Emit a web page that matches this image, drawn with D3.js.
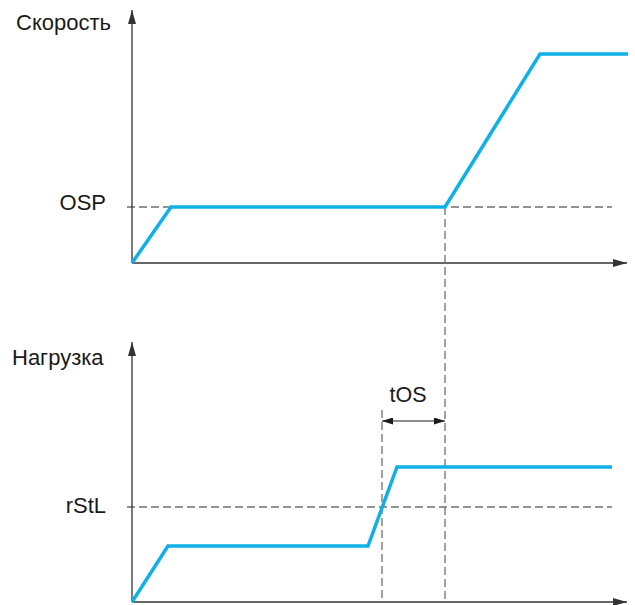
<!DOCTYPE html>
<html>
<head>
<meta charset="utf-8">
<script src="https://cdn.jsdelivr.net/npm/d3@7"></script>
<style>
  html, body { margin: 0; padding: 0; background: #fff; }
  text { font-family: "Liberation Sans", Arial, sans-serif; fill: #1a1a1a; }
</style>
</head>
<body>
<svg id="chart" width="635" height="605"></svg>
<script>
// Time axis (shared by both panels), arbitrary units
const timeEnd = 495;          // x-axis arrow tip
const dashEnd = 480;          // reference lines end

// Speed panel
const speedLevels = { OSP: 56 };
const speedT = [0, 39, 313, 408, 496];
const speedV = [0, 56, 56, 209, 209];

// Load panel
const loadLevels = { rStL: 95 };
const loadT = [0, 36, 236, 265, 480];
const loadV = [0, 56, 56, 135, 135];

// Time markers
const markerT = [250, 313];   // start / end of tOS
const markerLabel = "tOS";

const axisTitles = ["Скорость", "Нагрузка"];

const svg = d3.select("#chart");
const blue = "#0fb0e6";
const axisColor = "#333";
const dashColor = "#707070";
const fontSize = 22;

const x = d3.scaleLinear().domain([0, 500]).range([132, 632]);
const yTop = d3.scaleLinear().domain([0, 250]).range([263, 13]);
const yBot = d3.scaleLinear().domain([0, 250]).range([602, 352]);

const defs = svg.append("defs");
defs.append("marker").attr("id", "axArrow")
  .attr("viewBox", "0 0 14 8").attr("refX", 14).attr("refY", 4)
  .attr("markerWidth", 14).attr("markerHeight", 8)
  .attr("markerUnits", "userSpaceOnUse").attr("orient", "auto")
  .append("path").attr("d", "M0,0 L14,4 L0,8 Z").attr("fill", axisColor);
defs.append("marker").attr("id", "dimArrow")
  .attr("viewBox", "0 0 11 7").attr("refX", 11).attr("refY", 3.5)
  .attr("markerWidth", 11).attr("markerHeight", 7)
  .attr("markerUnits", "userSpaceOnUse").attr("orient", "auto-start-reverse")
  .append("path").attr("d", "M0,0 L11,3.5 L0,7 Z").attr("fill", "#1a1a1a");

const line = (ys) => d3.line().x(d => x(d[0])).y(d => ys(d[1]));

function panel(ys, title, titleX, titleY, levelName, levelVal, levelDy, yTip) {
  const g = svg.append("g");
  // reference level
  g.append("line")
    .attr("x1", x(-5)).attr("x2", x(dashEnd))
    .attr("y1", ys(levelVal)).attr("y2", ys(levelVal))
    .attr("stroke", dashColor).attr("stroke-width", 1.3)
    .attr("stroke-dasharray", "8,4");
  // axes
  g.append("line")
    .attr("x1", x(0)).attr("x2", x(0))
    .attr("y1", ys(0)).attr("y2", yTip)
    .attr("stroke", axisColor).attr("stroke-width", 1.3)
    .attr("marker-end", "url(#axArrow)");
  g.append("line")
    .attr("x1", x(0)).attr("x2", x(timeEnd))
    .attr("y1", ys(0)).attr("y2", ys(0))
    .attr("stroke", axisColor).attr("stroke-width", 1.3)
    .attr("marker-end", "url(#axArrow)");
  // labels
  g.append("text").attr("x", 106).attr("y", ys(levelVal) + levelDy)
    .attr("text-anchor", "end")
    .attr("font-size", fontSize).text(levelName);
  g.append("text").attr("x", titleX).attr("y", titleY)
    .attr("font-size", fontSize).text(title);
  return g;
}

panel(yTop, axisTitles[0], 16, 30, "OSP", speedLevels.OSP, 3, 10);
panel(yBot, axisTitles[1], 12, 365, "rStL", loadLevels.rStL, 6, 342);

// time markers
svg.append("line")
  .attr("x1", x(markerT[1])).attr("x2", x(markerT[1]))
  .attr("y1", yTop(speedLevels.OSP)).attr("y2", yBot(0))
  .attr("stroke", dashColor).attr("stroke-width", 1.3)
  .attr("stroke-dasharray", "8,4");
svg.append("line")
  .attr("x1", x(markerT[0])).attr("x2", x(markerT[0]))
  .attr("y1", 410).attr("y2", yBot(0))
  .attr("stroke", dashColor).attr("stroke-width", 1.3)
  .attr("stroke-dasharray", "8,4");
svg.append("line")
  .attr("x1", x(markerT[0])).attr("x2", x(markerT[1]))
  .attr("y1", 421).attr("y2", 421)
  .attr("stroke", "#1a1a1a").attr("stroke-width", 1.2)
  .attr("marker-start", "url(#dimArrow)").attr("marker-end", "url(#dimArrow)");
svg.append("text")
  .attr("x", 408).attr("y", 402)
  .attr("text-anchor", "middle").attr("font-size", 21.5).text(markerLabel);

// curves
svg.append("path").datum(d3.zip(speedT, speedV))
  .attr("d", line(yTop)).attr("fill", "none")
  .attr("stroke", blue).attr("stroke-width", 3.5).attr("stroke-linejoin", "miter");
svg.append("path").datum(d3.zip(loadT, loadV))
  .attr("d", line(yBot)).attr("fill", "none")
  .attr("stroke", blue).attr("stroke-width", 3.5).attr("stroke-linejoin", "miter");
</script>
</body>
</html>
